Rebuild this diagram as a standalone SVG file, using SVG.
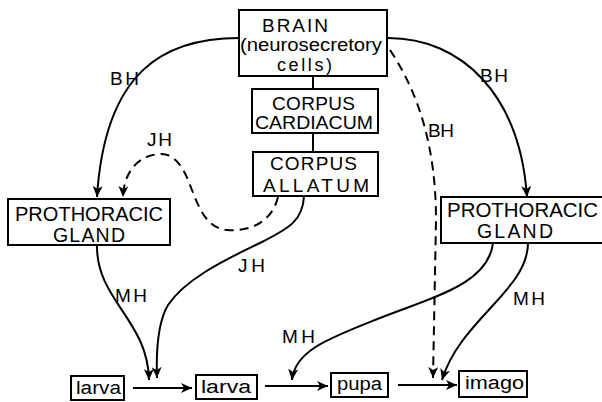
<svg xmlns="http://www.w3.org/2000/svg" width="602" height="402" viewBox="0 0 602 402">
<style>
.box{fill:#fff;stroke:#000;stroke-width:2}
.t{font-family:"Liberation Sans","DejaVu Sans",Arial,sans-serif;fill:#000}
.c{fill:none;stroke:#000;stroke-width:2}
.d{fill:none;stroke:#000;stroke-width:2;stroke-dasharray:9,6}
</style>
<defs>
<marker id="ah" markerUnits="userSpaceOnUse" markerWidth="12" markerHeight="10" refX="11" refY="5" orient="auto">
<path d="M0,0 L11,5 L0,10 L3,5 Z" fill="#000"/>
</marker>
</defs>
<rect width="602" height="402" fill="#fff"/>
<g id="connectors">
<line class="c" x1="313" y1="76" x2="313" y2="89"/>
<line class="c" x1="313" y1="133" x2="313" y2="152"/>
<path class="c" d="M239,38 C165,38 105,70 97,197" marker-end="url(#ah)"/>
<path class="c" d="M388,38 C462,38 520,95 527,197" marker-end="url(#ah)"/>
<path class="d" d="M390,50 C420,95 436,150 436,220 L433,378" marker-end="url(#ah)"/>
<path class="d" d="M278,197 C272,222 250,232 227,230 C205,228 198,205 190,185 C182,163 172,153 160,154 C140,155 124,170 123,197" marker-end="url(#ah)"/>
<path class="c" d="M97,245 C96,300 148,320 149,380" marker-end="url(#ah)"/>
<path class="c" d="M304,196 C303,220 290,228 260,243 C220,262 185,280 168,305 C158,322 156,350 157,378" marker-end="url(#ah)"/>
<path class="c" d="M493,243 C488,285 430,298 380,318 C330,338 295,350 292,380" marker-end="url(#ah)"/>
<path class="c" d="M528,243 C528,290 460,320 442,380" marker-end="url(#ah)"/>
<path class="c" d="M133,388 L192,388" marker-end="url(#ah)"/>
<path class="c" d="M265,386 L328,386" marker-end="url(#ah)"/>
<path class="c" d="M398,385 L457,385" marker-end="url(#ah)"/>
</g>
<g id="labels">
<text class="t" x="110" y="85" font-size="19" textLength="29" lengthAdjust="spacing">BH</text>
<text class="t" x="480" y="82" font-size="19" textLength="28" lengthAdjust="spacing">BH</text>
<text class="t" x="428" y="137" font-size="19" textLength="26" lengthAdjust="spacing">BH</text>
<text class="t" x="147" y="146" font-size="19" textLength="25" lengthAdjust="spacing">JH</text>
<text class="t" x="238" y="272" font-size="19" textLength="27" lengthAdjust="spacing">JH</text>
<text class="t" x="115" y="302" font-size="19" textLength="32" lengthAdjust="spacing">MH</text>
<text class="t" x="282" y="343" font-size="19" textLength="33" lengthAdjust="spacing">MH</text>
<text class="t" x="513" y="305" font-size="19" textLength="32" lengthAdjust="spacing">MH</text>
</g>
<g id="brain">
<rect class="box" x="239" y="10" width="148" height="66"/>
<text class="t" x="262" y="32" font-size="19" textLength="66" lengthAdjust="spacing">BRAIN</text>
<text class="t" x="240" y="51" font-size="18" textLength="142" lengthAdjust="spacingAndGlyphs">(neurosecretory</text>
<text class="t" x="277" y="71" font-size="18" textLength="55" lengthAdjust="spacing">cells)</text>
</g>
<g id="corpus-cardiacum">
<rect class="box" x="252" y="89" width="126" height="44"/>
<text class="t" x="272" y="110" font-size="19" textLength="83" lengthAdjust="spacing">CORPUS</text>
<text class="t" x="255" y="129" font-size="19" textLength="118" lengthAdjust="spacingAndGlyphs">CARDIACUM</text>
</g>
<g id="corpus-allatum">
<rect class="box" x="253" y="152" width="125" height="44"/>
<text class="t" x="270" y="170" font-size="19" textLength="87" lengthAdjust="spacing">CORPUS</text>
<text class="t" x="263" y="192" font-size="19" textLength="106" lengthAdjust="spacing">ALLATUM</text>
</g>
<g id="prothoracic-left">
<rect class="box" x="8" y="199" width="162" height="46"/>
<text class="t" x="15" y="221" font-size="19.5" textLength="148" lengthAdjust="spacingAndGlyphs">PROTHORACIC</text>
<text class="t" x="53" y="242" font-size="19.5" textLength="72" lengthAdjust="spacing">GLAND</text>
</g>
<g id="prothoracic-right">
<rect class="box" x="441" y="197" width="170" height="46"/>
<text class="t" x="447" y="217" font-size="19.5" textLength="151" lengthAdjust="spacingAndGlyphs">PROTHORACIC</text>
<text class="t" x="477" y="238" font-size="19.5" textLength="76" lengthAdjust="spacing">GLAND</text>
</g>
<g id="larva1">
<rect class="box" x="71" y="376" width="53" height="24"/>
<text class="t" x="76" y="394" font-size="18" textLength="45" lengthAdjust="spacingAndGlyphs">larva</text>
</g>
<g id="larva2">
<rect class="box" x="196" y="375" width="61" height="24"/>
<text class="t" x="201" y="393" font-size="18" textLength="50" lengthAdjust="spacingAndGlyphs">larva</text>
</g>
<g id="pupa">
<rect class="box" x="331" y="373" width="57" height="24"/>
<text class="t" x="337" y="390" font-size="18" textLength="45" lengthAdjust="spacingAndGlyphs">pupa</text>
</g>
<g id="imago">
<rect class="box" x="459" y="371" width="68" height="26"/>
<text class="t" x="465" y="389" font-size="18" textLength="59" lengthAdjust="spacingAndGlyphs">imago</text>
</g>
</svg>
